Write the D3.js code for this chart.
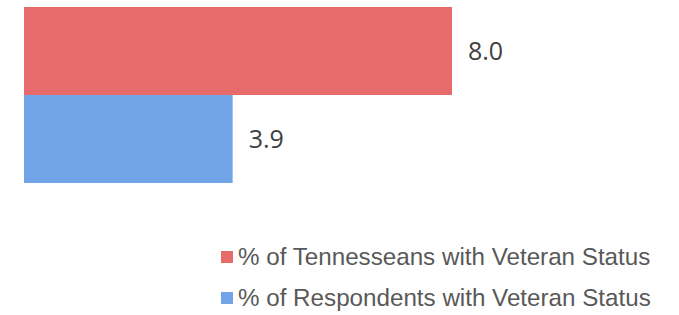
<!DOCTYPE html>
<html>
<head>
<meta charset="utf-8">
<script src="https://d3js.org/d3.v7.min.js"></script>
<style>
  html, body { margin: 0; padding: 0; background: #fff; }
  svg { display: block; }
</style>
</head>
<body>
<div id="chart"></div>
<script>
// data
var categories = ['% of Tennesseans with Veteran Status', '% of Respondents with Veteran Status'];
var values = [8.0, 3.9];
var colors = ['#E76B6A', '#72A4E8'];

var width = 679, height = 315;

var svg = d3.select('#chart').append('svg')
    .attr('width', width)
    .attr('height', height);

var x = d3.scaleLinear().domain([0, 10]).range([24, 559]);
var y = d3.scaleBand().domain(categories).range([7, 183]).padding(0);

svg.selectAll('rect.bar')
    .data(values)
    .enter()
    .append('rect')
    .attr('class', 'bar')
    .attr('x', x(0))
    .attr('y', function(d, i) { return y(categories[i]); })
    .attr('width', function(d) { return x(d) - x(0); })
    .attr('height', y.bandwidth())
    .attr('fill', function(d, i) { return colors[i]; });

svg.selectAll('text.val')
    .data(values)
    .enter()
    .append('text')
    .attr('class', 'val')
    .attr('x', function(d) { return x(d) + 16; })
    .attr('y', function(d, i) { return y(categories[i]) + y.bandwidth() / 2; })
    .attr('dy', '0.36em')
    .attr('font-family', 'Open Sans, sans-serif')
    .attr('font-size', 25)
    .attr('fill', '#404040')
    .text(function(d) { return d.toFixed(1); });

// legend
var legend = svg.selectAll('g.legend')
    .data(categories)
    .enter()
    .append('g')
    .attr('class', 'legend')
    .attr('transform', function(d, i) { return 'translate(221,' + (251 + i * 41) + ')'; });

legend.append('rect')
    .attr('width', 12)
    .attr('height', 12)
    .attr('fill', function(d, i) { return colors[i]; });

legend.append('text')
    .attr('x', 17)
    .attr('y', 14)
    .attr('font-family', 'Liberation Sans, Arial, sans-serif')
    .attr('font-size', 24.2)
    .attr('fill', '#595959')
    .text(function(d) { return d; });
</script>
</body>
</html>
